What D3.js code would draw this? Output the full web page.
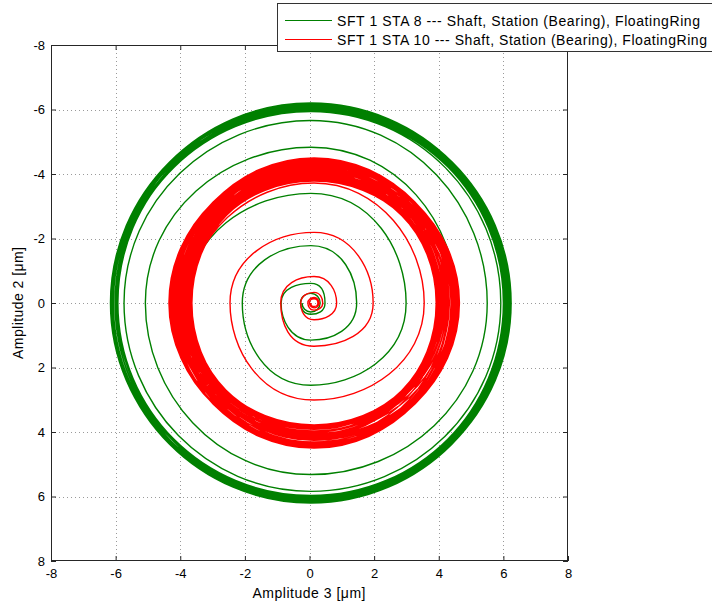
<!DOCTYPE html>
<html>
<head>
<meta charset="utf-8">
<script src="https://cdn.jsdelivr.net/npm/d3@7"></script>
<style>
  html, body { margin: 0; padding: 0; background: #fff; }
  svg { display: block; }
  text { font-family: "Liberation Sans", Arial, Helvetica, sans-serif; }
</style>
</head>
<body>
<svg id="chart" width="712" height="603"></svg>
<script>
// Orbit data: radius of each orbit at successive quarter turns
// (top, left, bottom, right, top, ...), in micrometres, around the orbit centre.
const seriesNames = [
  "SFT 1 STA 8 --- Shaft, Station (Bearing), FloatingRing",
  "SFT 1 STA 10 --- Shaft, Station (Bearing), FloatingRing"
];
const seriesColors = ["#008000", "#ff0000"];
const seriesCentreX = [0.04, 0.14];

const sta8Radii = [
  0.26, 0.27, 0.28, 0.29, 0.30, 0.32, 0.35, 0.44,
  0.61, 0.92, 1.15, 1.42, 1.78, 2.12, 2.55, 2.95,
  3.40, 3.84, 4.22, 4.52, 4.83, 5.12, 5.32, 5.46,
  5.66, 5.78, 5.84, 5.88, 5.94,
  6.00, 6.06, 6.13, 6.18, 6.20, 6.16, 6.10, 6.03, 5.98, 5.97, 6.02, 6.09,
  6.15, 6.19, 6.19, 6.13, 6.06, 6.00, 5.96, 5.99, 6.05, 6.12, 6.18, 6.20,
  6.17, 6.11, 6.04, 5.99, 5.97, 6.01, 6.08, 6.14, 6.19, 6.20, 6.14, 6.07,
  6.01, 5.97, 5.98, 6.04, 6.11, 6.17, 6.20, 6.18, 6.12, 6.05, 5.99, 5.96,
  6.00, 6.07, 6.13, 6.18, 6.20, 6.15, 6.08, 6.02, 5.97, 5.98, 6.03, 6.10,
  6.16, 6.20, 6.18, 6.13, 6.06, 6.00, 5.97, 5.99, 6.06, 6.12, 6.18, 6.20,
  6.16, 6.09, 6.03, 5.98, 5.97, 6.02, 6.09, 6.15, 6.19, 6.19, 6.14, 6.07, 6.01
];

const sta10Radii = [
  0.09, 0.10, 0.11, 0.12, 0.13, 0.14, 0.15, 0.16,
  0.17, 0.19, 0.22, 0.27, 0.33, 0.41, 0.52, 0.70,
  0.82, 1.03, 1.34, 1.83, 2.19, 2.60, 3.01, 3.41,
  3.72, 3.86,
  3.90, 4.12, 4.33, 4.47, 4.38, 4.15, 3.92, 3.79, 3.86, 4.06, 4.28, 4.45,
  4.44, 4.24, 4.00, 3.83, 3.80, 3.97, 4.20, 4.40, 4.49, 4.32, 4.08, 3.87,
  3.78, 3.91, 4.13, 4.36, 4.49, 4.40, 4.17, 3.94, 3.80, 3.84, 4.03, 4.25,
  4.44, 4.46, 4.27, 4.03, 3.85, 3.79, 3.95, 4.17, 4.39, 4.50, 4.35, 4.11,
  3.89, 3.78, 3.88, 4.09, 4.31, 4.47, 4.42, 4.20, 3.97, 3.81, 3.82, 4.00,
  4.22, 4.42, 4.48, 4.30, 4.06, 3.86, 3.79, 3.93, 4.15, 4.37, 4.50, 4.37,
  4.14, 3.91, 3.79, 3.86, 4.05, 4.27, 4.45, 4.45, 4.23, 3.99, 3.83, 3.80,
  3.98, 4.19, 4.40, 4.49, 4.33, 4.09, 3.88, 3.78, 3.90, 4.11, 4.34, 4.48,
  4.41, 4.18, 3.95, 3.80, 3.83, 4.02, 4.24, 4.43, 4.47, 4.28, 4.04, 3.85,
  3.79, 3.94, 4.16, 4.38, 4.50, 4.36, 4.12, 3.90, 3.78, 3.87, 4.07, 4.29,
  4.46, 4.43, 4.21, 3.98, 3.82, 3.81, 3.99, 4.21, 4.41, 4.49, 4.31, 4.07,
  3.87, 3.79, 3.92, 4.14, 4.36, 4.50, 4.38, 4.15, 3.92, 3.79, 3.85, 4.04,
  4.26, 4.44, 4.46, 4.25, 4.01, 3.84, 3.80, 3.96, 4.18, 4.39, 4.49, 4.34,
  4.10, 3.89, 3.78, 3.89, 4.10
];

const seriesRadii = [sta8Radii, sta10Radii];
const tickValues = [-8, -6, -4, -2, 0, 2, 4, 6, 8];
const xLabel = "Amplitude 3 [\u03bcm]";
const yLabel = "Amplitude 2 [\u03bcm]";

// Layout
const plot = { left: 51, right: 568, top: 45, bottom: 561 };
const svg = d3.select("#chart");

const x = d3.scaleLinear().domain([-8, 8]).range([plot.left, plot.right]);
// Amplitude 2 grows downward
const y = d3.scaleLinear().domain([-8, 8]).range([plot.top, plot.bottom]);

// Grid
const grid = svg.append("g").attr("stroke", "#9a9a9a").attr("stroke-width", 1)
  .attr("stroke-dasharray", "1,3");
tickValues.slice(1, -1).forEach(v => {
  grid.append("line").attr("x1", Math.round(x(v)) + 0.5).attr("x2", Math.round(x(v)) + 0.5)
    .attr("y1", plot.top).attr("y2", plot.bottom);
  grid.append("line").attr("y1", Math.round(y(v)) + 0.5).attr("y2", Math.round(y(v)) + 0.5)
    .attr("x1", plot.left).attr("x2", plot.right);
});

// Curve through quarter-turn samples: cubic segments whose control arms
// (0.276 x neighbour chord) follow circular arcs; the end samples only steer.
function orbitCurve(context) {
  const k = 0.5523 / 2;
  let pts = [];
  return {
    lineStart() { pts = []; },
    point(px, py) { pts.push([+px, +py]); },
    lineEnd() {
      for (let i = 1; i < pts.length - 2; i++) {
        const p0 = pts[i - 1], p1 = pts[i], p2 = pts[i + 1], p3 = pts[i + 2];
        if (i === 1) context.moveTo(p1[0], p1[1]);
        context.bezierCurveTo(
          p1[0] + k * (p2[0] - p0[0]), p1[1] + k * (p2[1] - p0[1]),
          p2[0] - k * (p3[0] - p1[0]), p2[1] - k * (p3[1] - p1[1]),
          p2[0], p2[1]);
      }
    },
    areaStart() {}, areaEnd() {}
  };
}

const line = d3.line()
  .x(d => x(d[0]))
  .y(d => y(d[1]))
  .curve(orbitCurve);

const orbits = svg.append("g");
seriesRadii.forEach((radii, i) => {
  const pts = radii.map((r, k) => {
    const a = -Math.PI / 2 - k * Math.PI / 2;
    return [seriesCentreX[i] + r * Math.cos(a), r * Math.sin(a)];
  });
  orbits.append("path")
    .attr("d", line(pts))
    .attr("fill", "none")
    .attr("stroke", seriesColors[i])
    .attr("stroke-width", 1.4)
    .attr("stroke-linejoin", "round");
});

// Axes with inward ticks on all four sides
const fmt = d => String(d);
const axisColor = "#262626";
function styleAxis(g) {
  g.select(".domain").remove();
  g.selectAll(".tick line").attr("stroke", axisColor);
  g.selectAll(".tick text").attr("fill", "#000").style("font-size", "13px")
    .style("font-family", '"Liberation Sans", Arial, sans-serif');
}
svg.append("g").attr("transform", `translate(0,${plot.bottom})`)
  .call(d3.axisBottom(x).tickValues(tickValues).tickFormat(fmt).tickSize(-5).tickPadding(8))
  .call(styleAxis);
svg.append("g").attr("transform", `translate(${plot.left},0)`)
  .call(d3.axisLeft(y).tickValues(tickValues).tickFormat(fmt).tickSize(-5).tickPadding(6))
  .call(styleAxis);
svg.append("g").attr("transform", `translate(0,${plot.top})`)
  .call(d3.axisTop(x).tickValues(tickValues).tickFormat("").tickSize(-5))
  .call(styleAxis);
svg.append("g").attr("transform", `translate(${plot.right},0)`)
  .call(d3.axisRight(y).tickValues(tickValues).tickFormat("").tickSize(-5))
  .call(styleAxis);

svg.append("rect")
  .attr("x", plot.left + 0.5).attr("y", plot.top + 0.5)
  .attr("width", plot.right - plot.left - 1).attr("height", plot.bottom - plot.top - 1)
  .attr("fill", "none").attr("stroke", axisColor).attr("stroke-width", 1);

// Axis titles
svg.append("text")
  .attr("x", 309).attr("y", 598)
  .attr("text-anchor", "middle").style("font-size", "14px")
  .attr("textLength", 113).attr("lengthAdjust", "spacing").text(xLabel);
svg.append("text")
  .attr("transform", `translate(23,${(plot.top + plot.bottom) / 2}) rotate(-90)`)
  .attr("text-anchor", "middle").style("font-size", "14px")
  .attr("textLength", 112).attr("lengthAdjust", "spacing").text(yLabel);

// Legend
const legend = svg.append("g");
legend.append("rect")
  .attr("x", 277.5).attr("y", 3.5).attr("width", 460).attr("height", 48)
  .attr("fill", "#fff").attr("stroke", "#333").attr("stroke-width", 1);
const legendTextWidths = [363, 370];
seriesNames.forEach((name, i) => {
  const ly = 20.5 + i * 19;
  legend.append("line")
    .attr("x1", 285).attr("x2", 332).attr("y1", ly).attr("y2", ly)
    .attr("stroke", seriesColors[i]).attr("stroke-width", 1.2);
  legend.append("text")
    .attr("x", 337).attr("y", ly + 5)
    .style("font-size", "14px").attr("fill", "#000")
    .attr("textLength", legendTextWidths[i]).attr("lengthAdjust", "spacing")
    .text(name);
});
</script>
</body>
</html>
